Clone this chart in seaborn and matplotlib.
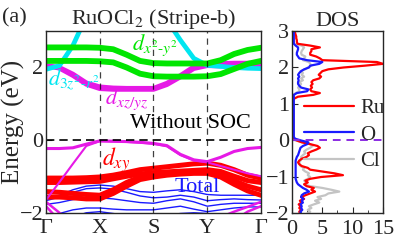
import numpy as np
import pandas as pd
import seaborn as sns
import matplotlib.pyplot as plt
from matplotlib.ticker import MultipleLocator

# k-path: Gamma - X - S - Y - Gamma, quarter steps
kpts = [0, 0.25, 0.5, 0.75, 1, 1.25, 1.5, 1.75, 2, 2.25, 2.5, 2.75, 3, 3.25, 3.5, 3.75, 4]
kticks = [0, 1, 2, 3, 4]
klabels = ['Γ', 'X', 'S', 'Y', 'Γ']

# d_{x2-y2} bands (green)
green1 = [2.55, 2.55, 2.55, 2.55, 2.54, 2.50, 2.35, 2.18, 2.12, 2.11, 2.11, 2.11, 2.11, 2.20, 2.37, 2.48, 2.54]
green2 = [2.18, 2.18, 2.18, 2.18, 2.17, 2.14, 2.00, 1.83, 1.76, 1.75, 1.75, 1.75, 1.76, 1.82, 1.96, 2.10, 2.18]
# d_{xz/yz} bands (magenta)
mag1 = [2.05, 2.00, 1.82, 1.58, 1.47, 1.44, 1.43, 1.43, 1.43, 1.57, 1.78, 2.02, 2.09, 2.11, 2.12, 2.12, 2.12]
mag2 = [2.05, 1.98, 1.78, 1.54, 1.42, 1.40, 1.40, 1.40, 1.40, 1.53, 1.74, 1.97, 2.05, 2.04, 2.04, 2.03, 2.03]
# d_{3z2-r2} band (cyan), off the top in between
cyan1 = [1.95, 2.05, 2.60, 3.40, 3.60, 3.60, 3.60, 3.60, 3.60, 3.30, 2.75, 2.25, 2.06, 2.03, 2.00, 1.98, 1.97]
# magenta bands near Fermi level
magt1 = [-0.22, -0.22, -0.20, -0.10, -0.01, -0.02, -0.03, -0.05, -0.08, -0.14, -0.38, -0.53, -0.58, -0.46, -0.30, -0.22, -0.19]
magt2 = [-1.63, -1.14, -0.64, -0.15, -0.02, -0.03, -0.04, -0.06, -0.09, -0.16, -0.40, -0.55, -0.60, -0.70, -0.80, -0.90, -0.98]
magb1 = [-1.68, -1.98, -2.30, -2.50, -2.60, -2.60, -2.60, -2.60, -2.60, -2.60, -2.50, -2.40, -2.30, -2.10, -1.95, -1.82, -1.68]
magb2 = [-1.80, -2.20, -2.50, -2.60, -2.70, -2.70, -2.70, -2.70, -2.70, -2.70, -2.70, -2.60, -2.50, -2.35, -2.20, -1.95, -1.80]
# d_xy bands (red)
red1 = [-1.03, -1.03, -1.03, -1.02, -1.00, -0.95, -0.88, -0.80, -0.76, -0.72, -0.68, -0.64, -0.62, -0.68, -0.80, -0.95, -1.03]
red2 = [-1.15, -1.15, -1.14, -1.13, -1.12, -1.05, -0.98, -0.92, -0.88, -0.86, -0.84, -0.82, -0.80, -0.85, -0.98, -1.10, -1.15]
red3 = [-1.40, -1.42, -1.45, -1.48, -1.50, -1.35, -1.15, -1.00, -0.93, -0.90, -0.88, -0.86, -0.86, -0.95, -1.10, -1.25, -1.35]
red4 = [-1.55, -1.55, -1.57, -1.60, -1.60, -1.45, -1.25, -1.07, -1.00, -0.95, -0.92, -0.90, -0.90, -1.00, -1.20, -1.38, -1.50]
# remaining total bands (blue)
blue1 = [-1.62, -1.50, -1.35, -1.25, -1.22, -1.25, -1.32, -1.40, -1.42, -1.38, -1.35, -1.40, -1.48, -1.50, -1.50, -1.50, -1.50]
blue2 = [-1.65, -1.55, -1.42, -1.32, -1.30, -1.33, -1.42, -1.52, -1.57, -1.55, -1.50, -1.55, -1.65, -1.62, -1.60, -1.62, -1.63]
blue3 = [-1.75, -1.70, -1.62, -1.58, -1.57, -1.60, -1.65, -1.70, -1.72, -1.65, -1.60, -1.68, -1.80, -1.75, -1.72, -1.72, -1.72]
blue4 = [-2.10, -2.00, -1.90, -1.85, -1.85, -1.88, -1.90, -1.90, -1.90, -1.85, -1.80, -1.88, -1.95, -1.90, -1.85, -1.82, -1.82]
blue5 = [-2.30, -2.20, -2.10, -1.98, -1.95, -2.00, -2.05, -2.08, -2.10, -2.05, -2.00, -1.98, -2.00, -2.05, -2.10, -2.15, -2.20]

# projected DOS (states/eV) on an energy grid
energy = np.round(np.arange(-2.0, 3.0001, 0.05), 2)
dos_ru = [1.3, 1.2, 1.5, 1.2, 1.4, 1.1, 1.6, 1.3, 2.0, 1.5,
          2.2, 3.0, 3.8, 3.2, 3.6, 2.4, 2.0, 2.6, 2.2, 3.0,
          4.8, 8.4, 7.0, 5.0, 3.0, 2.6, 1.6, 1.2, 1.0, 1.2,
          1.6, 2.4, 2.8, 2.6, 3.2, 4.0, 4.6, 4.2, 3.0, 1.6,
          0.8, 0.3, 0.2, 0.2, 0.2, 0.2, 0.2, 0.2, 0.2, 0.2,
          0.2, 0.2, 0.2, 0.2, 0.2, 0.2, 0.2, 0.2, 0.2, 0.2,
          0.2, 0.2, 0.2, 0.4, 1.0, 3.5, 4.6, 3.2, 3.0, 3.3,
          3.1, 3.4, 3.2, 3.5, 4.5, 4.8, 4.4, 4.7, 5.0, 6.0,
          8.5, 12.0, 15.0, 14.0, 5.0, 4.6, 4.0, 3.0, 3.0, 3.2,
          3.2, 4.6, 3.0, 0.9, 0.8, 0.8, 0.7, 0.7, 0.6, 0.5, 0.5]
dos_o = [1.5, 1.4, 1.7, 1.5, 1.6, 1.4, 1.8, 1.6, 1.9, 1.5,
         1.6, 2.0, 2.8, 2.4, 1.8, 1.4, 1.0, 0.8, 0.7, 0.6,
         0.6, 0.6, 0.6, 0.6, 0.6, 0.6, 0.6, 0.6, 0.6, 0.6,
         0.7, 0.8, 1.0, 1.1, 1.2, 1.3, 1.4, 1.8, 2.5, 2.7,
         1.5, 0.5, 0.3, 0.3, 0.3, 0.3, 0.3, 0.3, 0.3, 0.3,
         0.3, 0.3, 0.3, 0.3, 0.3, 0.3, 0.3, 0.3, 0.3, 0.3,
         0.3, 0.3, 0.3, 0.3, 0.3, 0.3, 0.8, 2.5, 2.7, 1.5,
         1.2, 1.0, 1.0, 1.1, 1.0, 1.2, 1.0, 1.2, 1.5, 2.0,
         2.8, 3.0, 4.5, 5.0, 2.5, 1.2, 1.0, 0.8, 0.8, 0.9,
         1.0, 1.0, 0.6, 0.3, 0.3, 0.3, 0.3, 0.3, 0.3, 0.3, 0.3]
dos_cl = [2.5, 3.0, 2.6, 3.2, 2.8, 3.6, 4.5, 3.8, 4.8, 4.2,
          5.5, 6.0, 7.8, 6.5, 5.0, 3.0, 2.0, 2.4, 2.0, 2.6,
          3.0, 2.6, 2.8, 2.2, 1.8, 2.0, 1.4, 1.3, 1.2, 1.4,
          1.6, 1.5, 1.8, 2.2, 2.0, 2.4, 3.0, 3.4, 3.0, 1.8,
          0.6, 0.2, 0.2, 0.2, 0.2, 0.2, 0.2, 0.2, 0.2, 0.2,
          0.2, 0.2, 0.2, 0.2, 0.2, 0.2, 0.2, 0.2, 0.2, 0.2,
          0.2, 0.2, 0.2, 0.2, 0.2, 0.2, 0.6, 1.2, 1.2, 1.0,
          1.3, 1.5, 1.2, 1.8, 1.5, 2.0, 1.6, 1.8, 1.4, 2.2,
          2.6, 3.2, 3.0, 2.8, 1.8, 2.0, 2.2, 1.6, 1.5, 1.6,
          1.8, 2.0, 1.6, 0.4, 0.2, 0.2, 0.2, 0.2, 0.2, 0.2, 0.2]

sns.set_style('ticks')
plt.rcParams['font.family'] = ['Liberation Serif', 'DejaVu Serif']
plt.rcParams['mathtext.fontset'] = 'stix'
plt.rcParams['xtick.direction'] = 'in'
plt.rcParams['ytick.direction'] = 'in'

fig = plt.figure(figsize=(3.99, 2.45), dpi=100)
ax = fig.add_axes([0.1153, 0.1286, 0.5388, 0.7449])
ax2 = fig.add_axes([0.7318, 0.1286, 0.2281, 0.7449])

GREEN = '#00e600'
MAG = '#e619e6'
CYAN = '#00e6f0'
RED = '#ff0000'
BLUE = '#1a1aff'

# thin total bands first, thick projected ones on top
for b in [blue1, blue2, blue3, blue4, blue5]:
    sns.lineplot(x=kpts, y=b, color=BLUE, lw=1.0, ax=ax, sort=False)
for b in [red4, red3, red2, red1]:
    sns.lineplot(x=kpts, y=b, color=RED, lw=3.6, ax=ax, sort=False)
for b in [magb1, magb2]:
    sns.lineplot(x=kpts, y=b, color=MAG, lw=1.8, ax=ax, sort=False)
sns.lineplot(x=kpts, y=magt2, color=MAG, lw=1.5, ax=ax, sort=False)
sns.lineplot(x=kpts, y=magt1, color=MAG, lw=2.2, ax=ax, sort=False)
for b in [mag2, mag1]:
    sns.lineplot(x=kpts, y=b, color=MAG, lw=3.4, ax=ax, sort=False)
sns.lineplot(x=kpts, y=cyan1, color=CYAN, lw=3.4, ax=ax, sort=False)
for b in [green2, green1]:
    sns.lineplot(x=kpts, y=b, color=GREEN, lw=4.2, ax=ax, sort=False)

for kx in kticks[1:-1]:
    ax.axvline(kx, color='k', ls=(0, (5, 4)), lw=0.9, alpha=0.75)
ax.axhline(0, color='k', ls=(0, (5, 3)), lw=1.2)

ax.set_xlim(0, 4)
ax.set_ylim(-2, 3)
ax.set_xticks(kticks)
ax.set_xticklabels(klabels)
ax.tick_params(axis='x', length=0, labelsize=16, pad=4)
ax.tick_params(axis='y', length=4, labelsize=16, pad=2)
ax.set_ylabel('Energy (eV)', fontsize=18)
ax.yaxis.set_label_coords(-0.098, 0.5)
ax.set_title('RuOCl$_2$ (Stripe-b)', fontsize=16, pad=2)
for s in ax.spines.values():
    s.set_linewidth(1.0)

ax.text(1.6, 2.48, r'$d_{x^2\text{-}y^2}$', color=GREEN, fontsize=16)
ax.text(0.04, 1.5, r'$d_{3z^2\text{-}r^2}$', color=CYAN, fontsize=16)
ax.text(1.1, 1.0, r'$d_{xz/yz}$', color=MAG, fontsize=16)
ax.text(1.56, 0.34, 'Without SOC', color='k', fontsize=16)
ax.text(1.05, -0.68, r'$d_{xy}$', color=RED, fontsize=17)
ax.text(2.4, -1.4, 'Total', color=BLUE, fontsize=16)
fig.text(0.005, 0.91, '(a)', fontsize=16)

# DOS panel
sns.lineplot(x=dos_cl, y=energy, orient='y', color='#c4c4c4', lw=1.6, ax=ax2, label='Cl')
sns.lineplot(x=dos_ru, y=energy, orient='y', color=RED, lw=1.6, ax=ax2, label='Ru')
sns.lineplot(x=dos_o, y=energy, orient='y', color=BLUE, lw=1.6, ax=ax2, label='O')
ax2.axhline(0, color='#8a2be2', ls=(0, (4, 3)), lw=1.4)
ax2.set_xlim(0, 15)
ax2.set_ylim(-2, 3)
ax2.set_xticks([0, 5, 10, 15])
ax2.xaxis.set_minor_locator(MultipleLocator(2.5))
ax2.set_yticks([-2, -1, 0, 1, 2, 3])
ax2.tick_params(axis='both', which='major', length=4, labelsize=16, pad=2)
ax2.tick_params(axis='x', which='major', pad=5)
ax2.tick_params(axis='x', which='minor', length=2.5)
ax2.set_title('DOS', fontsize=16, pad=2)
for s in ax2.spines.values():
    s.set_linewidth(1.0)

h, lab = ax2.get_legend_handles_labels()
order = [lab.index('Ru'), lab.index('O'), lab.index('Cl')]
ax2.legend([h[i] for i in order], [lab[i] for i in order], loc='upper right',
           bbox_to_anchor=(1.02, 0.63), frameon=False, fontsize=15,
           handlelength=2.4, handletextpad=0.3, labelspacing=0.34, borderpad=0,
           borderaxespad=0)

fig.savefig('out.png', dpi=100)
